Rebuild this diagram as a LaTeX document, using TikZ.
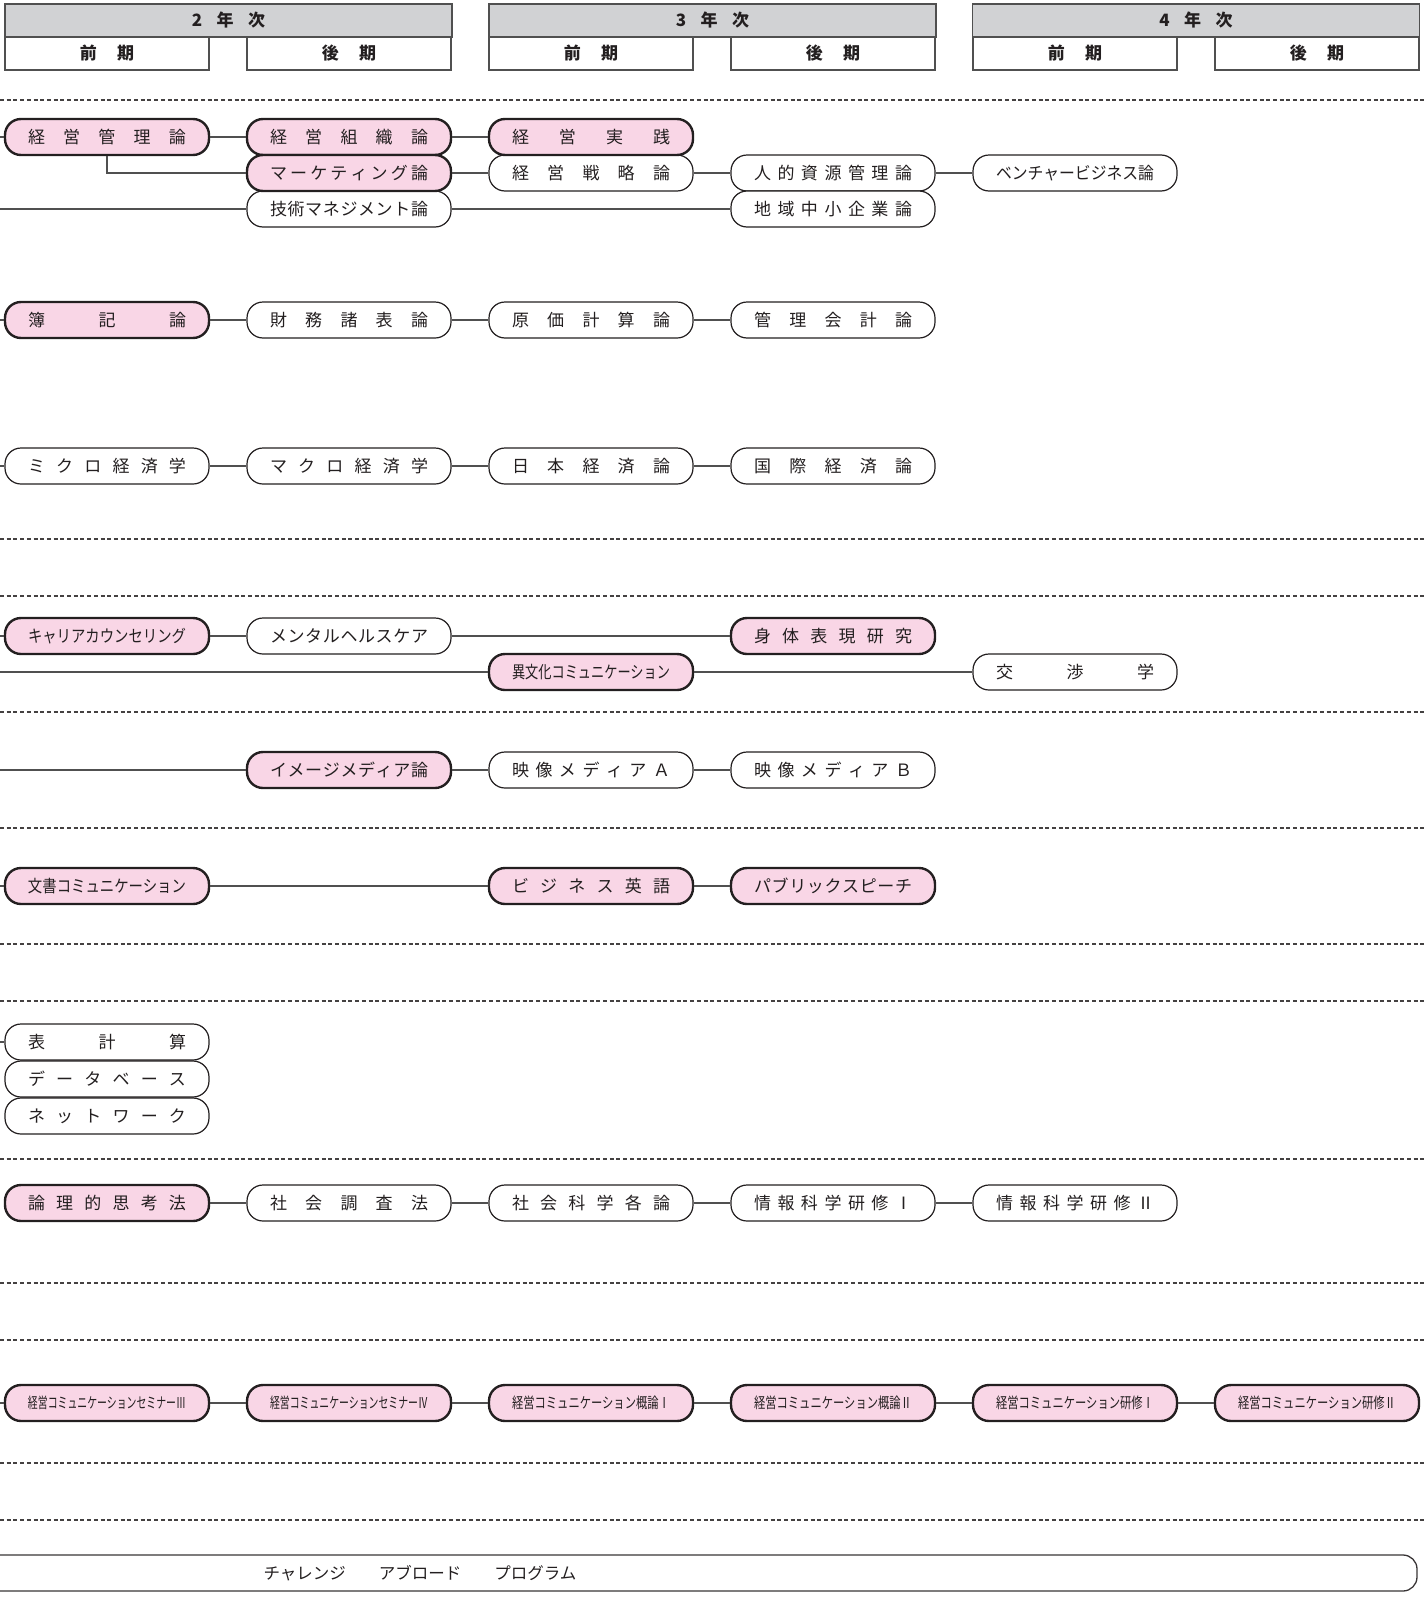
\documentclass[tikz,border=0pt]{standalone}
\usepackage{fontspec}
\usepackage{graphicx}
\setmainfont{Noto Sans CJK JP}
\definecolor{pinkfill}{RGB}{249,214,230}
\definecolor{hdrgray}{RGB}{209,210,212}
\definecolor{inkc}{RGB}{35,31,32}
\definecolor{linec}{RGB}{80,80,80}

\makeatletter
\newlength\lblwd
\newcommand\spreadlbl[1]{\hbox to 158pt{\let\lbl@sep\relax\@tfor\lbl@c:=#1\do{\lbl@sep\lbl@c\let\lbl@sep\hfill}}}
\newcommand\fitlbl[1]{\settowidth\lblwd{#1}\ifdim\lblwd<158pt\relax\spreadlbl{#1}\else\resizebox{158pt}{\height}{#1}\fi}
\makeatother

\begin{document}
\begin{tikzpicture}[x=1pt, y=-1pt,
		course/.style={draw=inkc, line width=1.2pt, fill=white, rounded corners=16pt, minimum width=204pt, minimum height=36pt, inner sep=0pt, text=inkc, font=\fontsize{17}{20}\selectfont},
		pcourse/.style={course, fill=pinkfill, line width=2.4pt},
		small/.style={font=\fontsize{15}{18}\selectfont},
		conn/.style={draw=linec, line width=1.3pt},
		sepline/.style={draw=inkc!85, line width=2pt, dash pattern=on 4pt off 2.7pt},
		yearbox/.style={draw=linec, line width=1.4pt, fill=hdrgray, minimum width=447pt, minimum height=33pt, inner sep=0pt, text=inkc, font=\bfseries\fontsize{17}{20}\selectfont},
		termbox/.style={yearbox, fill=white, minimum width=204pt}]
	\useasboundingbox (0,0) rectangle (1425,1622);
	
	% 学年・学期
	\node[yearbox] (y2) at (228.5,20.5) {2\hspace{0.85em}年\hspace{0.85em}次};
	\node[termbox] (y2a) at (107,53.5) {前\hspace{1.2em}期};
	\node[termbox] (y2b) at (349,53.5) {後\hspace{1.2em}期};
	\node[yearbox] (y3) at (712.5,20.5) {3\hspace{0.85em}年\hspace{0.85em}次};
	\node[termbox] (y3a) at (591,53.5) {前\hspace{1.2em}期};
	\node[termbox] (y3b) at (833,53.5) {後\hspace{1.2em}期};
	\node[yearbox] (y4) at (1196,20.5) {4\hspace{0.85em}年\hspace{0.85em}次};
	\node[termbox] (y4a) at (1075,53.5) {前\hspace{1.2em}期};
	\node[termbox] (y4b) at (1317,53.5) {後\hspace{1.2em}期};
	
	% 区切り線
	\foreach \y in {100,539,596,712,828,944,1001,1159,1283,1340,1463,1520}
		\draw[sepline] (0,\y) -- (1425,\y);
	
	% 経営
	\node[pcourse] (kanri) at (107,137) {\fitlbl{経営管理論}};
	\node[pcourse] (soshiki) at (349,137) {\fitlbl{経営組織論}};
	\node[course] (senryaku) at (591,173) {\fitlbl{経営戦略論}};
	\node[pcourse] (jissen) at (591,137) {\fitlbl{経営実践}};
	\node[course] (gijutsu) at (349,209) {\fitlbl{技術マネジメント論}};
	\node[pcourse] (mkt) at (349,173) {\fitlbl{マーケティング論}};
	\node[course] (jinji) at (833,173) {\fitlbl{人的資源管理論}};
	\node[course] (chiiki) at (833,209) {\fitlbl{地域中小企業論}};
	\node[course] (venture) at (1075,173) {\fitlbl{ベンチャービジネス論}};
	\coordinate (k0) at (0,137);
	\coordinate (g0) at (0,209);
	\draw[conn] (k0) -- (kanri.west) (kanri.east) -- (soshiki.west) (soshiki.east) -- (jissen.west);
	\draw[conn] (kanri.south) |- (mkt.west);
	\draw[conn] (mkt.east) -- (senryaku.west) (senryaku.east) -- (jinji.west) (jinji.east) -- (venture.west);
	\draw[conn] (g0) -- (gijutsu.west) (gijutsu.east) -- (chiiki.west);
	
	% 会計
	\node[pcourse] (boki) at (107,320) {\fitlbl{簿記論}};
	\node[course] (zaimu) at (349,320) {\fitlbl{財務諸表論}};
	\node[course] (genka) at (591,320) {\fitlbl{原価計算論}};
	\node[course] (kanrikaikei) at (833,320) {\fitlbl{管理会計論}};
	\coordinate (b0) at (0,320);
	\draw[conn] (b0) -- (boki.west) (boki.east) -- (zaimu.west) (zaimu.east) -- (genka.west) (genka.east) -- (kanrikaikei.west);
	
	% 経済
	\node[course] (micro) at (107,466) {\fitlbl{ミクロ経済学}};
	\node[course] (macro) at (349,466) {\fitlbl{マクロ経済学}};
	\node[course] (nihon) at (591,466) {\fitlbl{日本経済論}};
	\node[course] (kokusai) at (833,466) {\fitlbl{国際経済論}};
	\coordinate (m0) at (0,466);
	\draw[conn] (m0) -- (micro.west) (micro.east) -- (macro.west) (macro.east) -- (nihon.west) (nihon.east) -- (kokusai.west);
	
	% コミュニケーション
	\node[pcourse] (career) at (107,636) {\fitlbl{キャリアカウンセリング}};
	\node[course] (mental) at (349,636) {\fitlbl{メンタルヘルスケア}};
	\node[pcourse] (shintai) at (833,636) {\fitlbl{身体表現研究}};
	\node[pcourse] (ibunka) at (591,672) {\fitlbl{異文化コミュニケーション}};
	\node[course] (kosho) at (1075,672) {\fitlbl{交渉学}};
	\coordinate (c0) at (0,636);
	\coordinate (i0) at (0,672);
	\draw[conn] (c0) -- (career.west) (career.east) -- (mental.west) (mental.east) -- (shintai.west);
	\draw[conn] (i0) -- (ibunka.west) (ibunka.east) -- (kosho.west);
	
	% メディア
	\node[pcourse] (image) at (349,770) {\fitlbl{イメージメディア論}};
	\node[course] (eizoA) at (591,770) {\fitlbl{映像メディアＡ}};
	\node[course] (eizoB) at (833,770) {\fitlbl{映像メディアＢ}};
	\coordinate (e0) at (0,770);
	\draw[conn] (e0) -- (image.west) (image.east) -- (eizoA.west) (eizoA.east) -- (eizoB.west);
	
	% 言語
	\node[pcourse] (bunsho) at (107,886) {\fitlbl{文書コミュニケーション}};
	\node[pcourse] (eigo) at (591,886) {\fitlbl{ビジネス英語}};
	\node[pcourse] (speech) at (833,886) {\fitlbl{パブリックスピーチ}};
	\coordinate (w0) at (0,886);
	\draw[conn] (w0) -- (bunsho.west) (bunsho.east) -- (eigo.west) (eigo.east) -- (speech.west);
	
	% 情報処理
	\node[course] (hyo) at (107,1042) {\fitlbl{表計算}};
	\node[course] (db) at (107,1079) {\fitlbl{データベース}};
	\node[course] (net) at (107,1116) {\fitlbl{ネットワーク}};
	\coordinate (h0) at (0,1042);
	\draw[conn] (h0) -- (hyo.west);
	
	% 思考・調査
	\node[pcourse] (ronri) at (107,1203) {\fitlbl{論理的思考法}};
	\node[course] (chosa) at (349,1203) {\fitlbl{社会調査法}};
	\node[course] (kagaku) at (591,1203) {\fitlbl{社会科学各論}};
	\node[course] (joho1) at (833,1203) {\fitlbl{情報科学研修Ⅰ}};
	\node[course] (joho2) at (1075,1203) {\fitlbl{情報科学研修Ⅱ}};
	\draw[conn] (ronri.east) -- (chosa.west) (chosa.east) -- (kagaku.west) (kagaku.east) -- (joho1.west) (joho1.east) -- (joho2.west);
	
	% 経営コミュニケーション
	\node[pcourse, small] (semi3) at (107,1403) {\fitlbl{経営コミュニケーションセミナーⅢ}};
	\node[pcourse, small] (semi4) at (349,1403) {\fitlbl{経営コミュニケーションセミナーⅣ}};
	\node[pcourse, small] (gairon1) at (591,1403) {\fitlbl{経営コミュニケーション概論Ⅰ}};
	\node[pcourse, small] (gairon2) at (833,1403) {\fitlbl{経営コミュニケーション概論Ⅱ}};
	\node[pcourse, small] (kenshu1) at (1075,1403) {\fitlbl{経営コミュニケーション研修Ⅰ}};
	\node[pcourse, small] (kenshu2) at (1317,1403) {\fitlbl{経営コミュニケーション研修Ⅱ}};
	\coordinate (s0) at (0,1403);
	\draw[conn] (s0) -- (semi3.west) (semi3.east) -- (semi4.west) (semi4.east) -- (gairon1.west) (gairon1.east) -- (gairon2.west) (gairon2.east) -- (kenshu1.west) (kenshu1.east) -- (kenshu2.west);
	
	% 海外
	\draw[draw=inkc!90, line width=1.3pt, rounded corners=14pt] (0,1555) -- (1417,1555) -- (1417,1591) -- (0,1591);
	\node[text=inkc, font=\fontsize{16.5}{20}\selectfont] (abroad) at (420,1573) {チャレンジ　　アブロード　　プログラム};
\end{tikzpicture}
\end{document}
